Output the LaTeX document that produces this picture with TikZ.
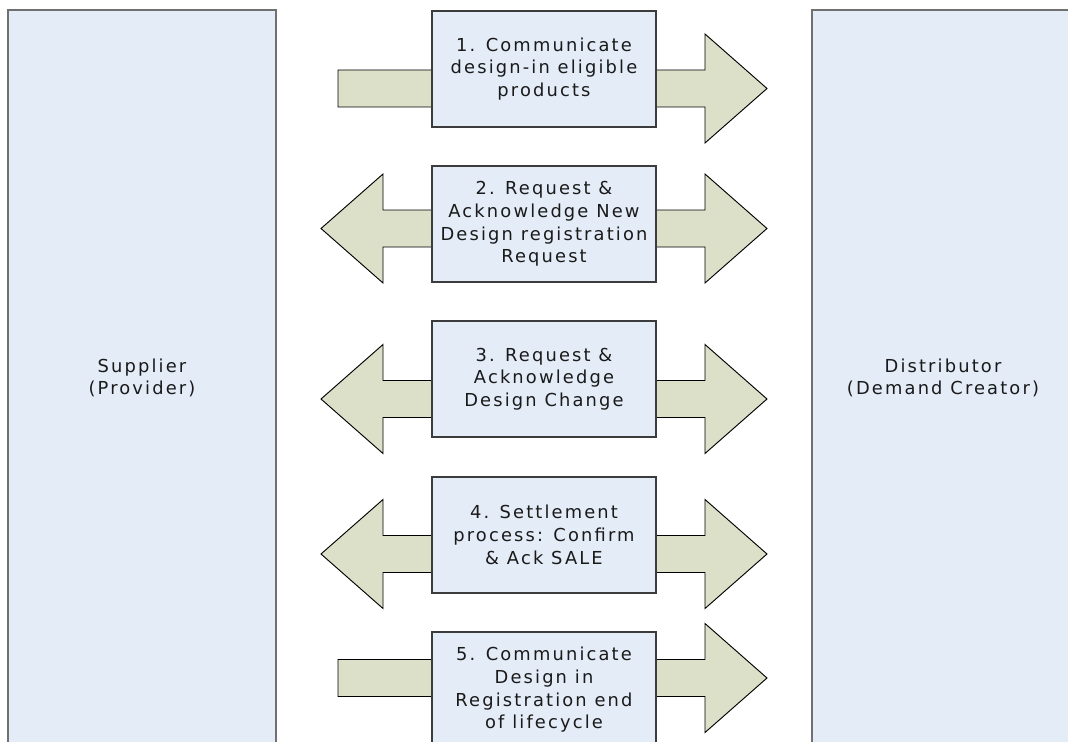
\documentclass[tikz,border=0pt]{standalone}
\usepackage{fontspec}
\setmainfont{DejaVu Sans}[LetterSpace=12]
\usetikzlibrary{fit}
\definecolor{boxfill}{RGB}{228,236,247}
\definecolor{arrowfill}{RGB}{221,224,200}
\definecolor{sideline}{RGB}{112,112,112}
\definecolor{stepline}{RGB}{60,60,60}
\definecolor{txt}{RGB}{26,26,26}
\tikzset{
  labeltext/.style={text=txt, align=center, font=\fontsize{13.4}{17}\selectfont},
  party/.style={draw=sideline, line width=1.5pt, fill=boxfill, inner sep=0pt},
  stepbox/.style={draw=stepline, line width=0.9pt, fill=boxfill, inner sep=0pt,
    minimum width=168pt, minimum height=87pt, labeltext},
  blockarrow/.style={draw=black, line width=0.7pt, fill=arrowfill, line join=miter},
  onearrow/.pic={
    \path[blockarrow] (338,-18.5) -- (705,-18.5) -- (705,-54.5) -- (767,0)
      -- (705,54.5) -- (705,18.5) -- (338,18.5) -- cycle;
  },
  twoarrow/.pic={
    \path[blockarrow] (321,0) -- (383,-54.5) -- (383,-18.5) -- (705,-18.5)
      -- (705,-54.5) -- (767,0) -- (705,54.5) -- (705,18.5) -- (383,18.5)
      -- (383,54.5) -- cycle;
  }
}
\begin{document}
\begin{tikzpicture}[x=0.75pt, y=-0.75pt]
\path[use as bounding box, clip] (0,0) rectangle (1068,742);
\fill[white] (0,0) rectangle (1068,742);

% the two parties
\coordinate (s1) at (8,10.5);   \coordinate (s2) at (276,760);
\coordinate (d1) at (812,10.5); \coordinate (d2) at (1074,760);
\node[party, fit=(s1)(s2)] (supplier) {};
\node[party, fit=(d1)(d2)] (distributor) {};
\node[labeltext] (supplierlabel) at (142,378) {Supplier\\(Provider)};
\node[labeltext] (distributorlabel) at (943,378) {Distributor\\(Demand Creator)};

% message flows behind the steps
\pic at (0,88.5) {onearrow};
\pic at (0,228.5) {twoarrow};
\pic at (0,399) {twoarrow};
\pic at (0,554) {twoarrow};
\pic at (0,678) {onearrow};

% process steps
\node[stepbox] (step1) at (544,69)  {1. Communicate\\design-in eligible\\products};
\node[stepbox] (step2) at (544,224) {2. Request \&\\Acknowledge New\\Design registration\\Request};
\node[stepbox] (step3) at (544,379) {3. Request \&\\Acknowledge\\Design Change};
\node[stepbox] (step4) at (544,535) {4. Settlement\\process: Confirm\\\& Ack SALE};
\node[stepbox] (step5) at (544,690) {5. Communicate\\Design in\\Registration end\\of lifecycle};
\end{tikzpicture}
\end{document}
